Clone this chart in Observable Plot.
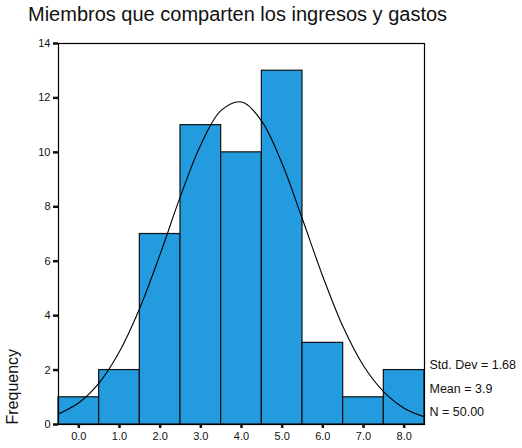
<!DOCTYPE html>
<html>
<head>
<meta charset="utf-8">
<script src="https://cdn.jsdelivr.net/npm/d3@7"></script>
<script src="https://cdn.jsdelivr.net/npm/@observablehq/plot@0.6"></script>
<style>
  html, body { margin: 0; padding: 0; background: #fff; }
  #wrap { position: relative; width: 522px; height: 448px; font-family: "Liberation Sans", Arial, sans-serif; }
  #title { position: absolute; left: 28px; top: 3px; font-size: 20px; color: #111; white-space: nowrap; }
  #chart { position: absolute; left: 0; top: 0; }
</style>
</head>
<body>
<div id="wrap">
  <div id="chart"></div>
  <div id="title">Miembros que comparten los ingresos y gastos</div>
</div>
<script>
// Histogram data (bin centers and frequencies)
const binCenters = [0, 1, 2, 3, 4, 5, 6, 7, 8];
const frequencies = [1, 2, 7, 11, 10, 13, 3, 1, 2];
const binWidth = 1;
// Normal curve points
const curveX = [-0.5, 0, 0.5, 1, 1.5, 2, 2.5, 3, 3.5, 4, 4.5, 5, 5.5, 6, 6.5, 7, 7.5, 8, 8.5];
const curveY = [0.39, 0.80, 1.53, 2.68, 4.28, 6.26, 8.39, 10.28, 11.54, 11.85, 11.14, 9.58, 7.54, 5.44, 3.58, 2.16, 1.20, 0.60, 0.28];
// Tick labels
const xTicks = [0, 1, 2, 3, 4, 5, 6, 7, 8];
const yTicks = [0, 2, 4, 6, 8, 10, 12, 14];
const yLabel = "Frequency";
const statsLabels = ["Std. Dev = 1.68", "Mean = 3.9", "N = 50.00"];

const bars = binCenters.map((c, i) => ({center: c, freq: frequencies[i]}));
const curve = curveX.map((x, i) => ({x, y: curveY[i]}));
const statsOffsets = [-56, -32, -9];

const chart = Plot.plot({
  width: 522,
  height: 448,
  marginTop: 43,
  marginBottom: 24,
  marginLeft: 58,
  marginRight: 98,
  style: {fontFamily: "Liberation Sans, Arial, sans-serif", fontSize: "11px", color: "#111", background: "transparent"},
  x: {domain: [-0.5, 8.5], label: null},
  y: {domain: [0, 14], label: null},
  marks: [
    Plot.rectY(bars, {
      x1: d => d.center - binWidth / 2,
      x2: d => d.center + binWidth / 2,
      y: "freq",
      fill: "#229cdf",
      stroke: "#111",
      strokeWidth: 1.2
    }),
    Plot.line(curve, {x: "x", y: "y", stroke: "#000", strokeWidth: 1.1, curve: "catmull-rom"}),
    Plot.frame({stroke: "#000", strokeWidth: 1.2}),
    Plot.axisY(yTicks, {tickSize: 5, tickPadding: 3, strokeWidth: 2.5, fontSize: 11, tickFormat: d => String(d)}),
    Plot.axisX(xTicks, {tickSize: 4, tickPadding: 4, strokeWidth: 2.5, fontSize: 11, tickFormat: d => d.toFixed(1)}),
    Plot.text([yLabel], {
      text: d => d,
      frameAnchor: "bottom-left",
      rotate: -90,
      textAnchor: "start",
      dx: -41,
      dy: 0,
      fontSize: 16
    }),
    ...statsLabels.map((s, i) => Plot.text([s], {
      text: d => d,
      frameAnchor: "bottom-right",
      textAnchor: "start",
      dx: 5,
      dy: statsOffsets[i],
      fontSize: 12.5
    }))
  ]
});
document.getElementById("chart").appendChild(chart);
</script>
</body>
</html>
